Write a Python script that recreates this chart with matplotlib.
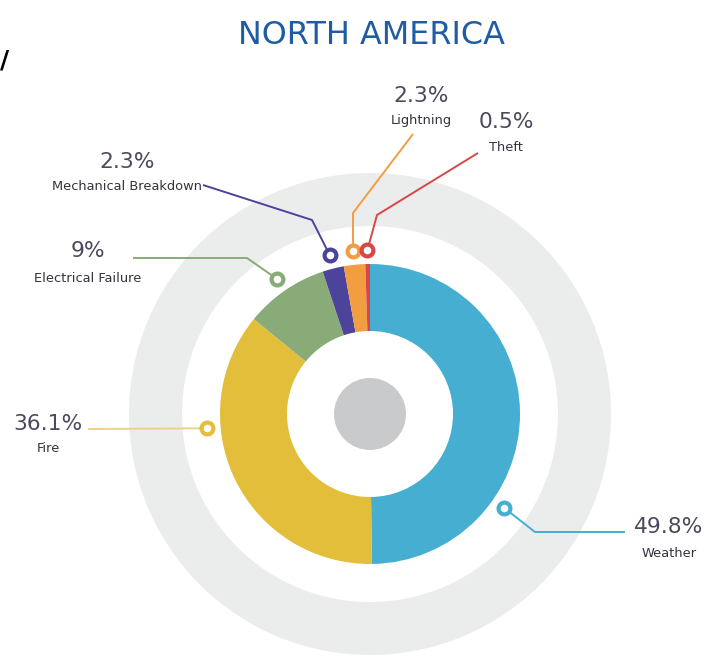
import matplotlib
matplotlib.use('Agg')
import matplotlib.pyplot as plt
from matplotlib import font_manager
from matplotlib.patches import Circle, Wedge
import numpy as np

W, H = 706, 656

categories = ['Weather', 'Fire', 'Electrical Failure', 'Mechanical Breakdown', 'Lightning', 'Theft']
shares = [49.8, 36.1, 9, 2.3, 2.3, 0.5]
pct_labels = ['49.8%', '36.1%', '9%', '2.3%', '2.3%', '0.5%']
colors = ['#45AED1', '#E2BE3A', '#88AB78', '#4B449A', '#F29D3F', '#D9464A']
line_colors = ['#45AED1', '#EBD38A', '#88AB78', '#4B449A', '#F29D3F', '#D9464A']

# use a narrow/condensed face if the box has one, else plain sans
narrow = None
for f in font_manager.fontManager.ttflist:
    if ('Narrow' in f.name or 'Condensed' in f.name or f.stretch == 'condensed') \
            and 'Mono' not in f.name and 'Serif' not in f.name and f.weight in (400, 'normal'):
        narrow = f.name
        break
fam = ([narrow] if narrow else []) + ['Liberation Sans', 'DejaVu Sans']
plt.rcParams['font.family'] = fam


def px(x, y):
    # image pixel coords -> axes coords
    return x, H - y


cx, cy = px(370, 414)

fig = plt.figure(figsize=(W / 100, H / 100), dpi=100)
ax = fig.add_axes([0, 0, 1, 1])

# grey background ring and centre dot
ax.add_patch(Wedge((cx, cy), 241, 0, 360, width=53, color='#EBECEC', lw=0))

wedges, _ = ax.pie(shares, colors=colors, startangle=90, counterclock=False,
                   radius=150, center=(cx, cy),
                   wedgeprops=dict(width=67, linewidth=0))
ax.add_patch(Circle((cx, cy), 36, color='#C9CACC', lw=0))

# leader layout: elbow points (image px), label anchor x, baselines
marker_angle = {'Weather': -35, 'Fire': 185}
elbows = {
    'Weather': [(535, 532), (625, 532)],
    'Fire': [(88, 429)],
    'Electrical Failure': [(247, 258), (133, 258)],
    'Mechanical Breakdown': [(312, 220), (203, 185)],
    'Lightning': [(353, 213), (413, 134)],
    'Theft': [(377, 215), (478, 153)],
}
label_pos = {
    'Weather': (669, 533, 557),
    'Fire': (48, 430, 452),
    'Electrical Failure': (88, 257, 282),
    'Mechanical Breakdown': (127, 168, 190),
    'Lightning': (421, 102, 124),
    'Theft': (506, 128, 151),
}

pct_texts, name_texts = [], []
for i, (name, w) in enumerate(zip(categories, wedges)):
    ang = marker_angle.get(name, (w.theta1 + w.theta2) / 2)
    mx = cx + 164 * np.cos(np.radians(ang))
    my = cy + 164 * np.sin(np.radians(ang))
    pts = [(mx, my)] + [px(*p) for p in elbows[name]]
    xs, ys = zip(*pts)
    ax.plot(xs, ys, color=line_colors[i], lw=1.4, solid_capstyle='butt', zorder=3)
    ax.plot(mx, my, 'o', ms=8.5, mew=3, mfc='white', mec=colors[i], zorder=4)
    lx, by1, by2 = label_pos[name]
    pct_texts.append(ax.text(*px(lx, by1), pct_labels[i], ha='center', va='baseline',
                             fontsize=20, color='#4A4A5C'))
    name_texts.append(ax.text(*px(lx, by2), name, ha='center', va='baseline',
                              fontsize=12, color='#33333F'))

title = ax.text(*px(371, 44), 'NORTH AMERICA', ha='center', va='baseline',
                fontsize=28, color='#1F5CA3')
ax.text(*px(0, 68), '/', ha='left', va='baseline', fontsize=18,
        fontweight='bold', color='black')

ax.set_xlim(0, W)
ax.set_ylim(0, H)
ax.set_aspect('equal')
ax.axis('off')

# size the texts so their widths match the original's
fig.canvas.draw()
r = fig.canvas.get_renderer()


def fit(t, width):
    t.set_fontsize(t.get_fontsize() * width / t.get_window_extent(r).width)


fit(title, 268)
fit(pct_texts[0], 69)
for t in pct_texts[1:]:
    t.set_fontsize(pct_texts[0].get_fontsize())
fit(name_texts[3], 150)
for t in name_texts:
    t.set_fontsize(name_texts[3].get_fontsize())

fig.savefig('out.png', dpi=100, facecolor='white')
